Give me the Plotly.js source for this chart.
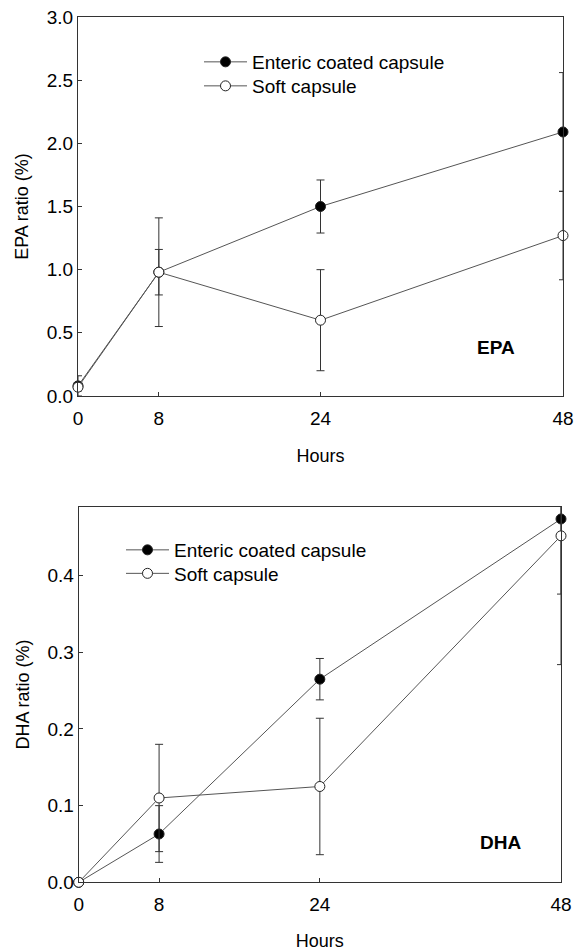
<!DOCTYPE html>
<html><head><meta charset="utf-8">
<script src="https://cdn.plot.ly/plotly-3.0.1.min.js"></script>
<style>html,body{margin:0;padding:0;background:#fff}</style>
</head><body><div id="chart" style="width:575px;height:951px"></div>
<script>
// Hours after intake
const hours = [0, 8, 24, 48];
const seriesNames = ['Enteric coated capsule', 'Soft capsule'];

// EPA ratio (%)
const epaEnteric    = [0.08, 0.98, 1.50, 2.09];
const epaEntericErr = [0.08, 0.18, 0.21, 0.47];
const epaSoft       = [0.07, 0.98, 0.60, 1.27];
const epaSoftErr    = [0.03, 0.43, 0.40, 0.35];

// DHA ratio (%)
const dhaEnteric    = [0.0, 0.063, 0.265, 0.474];
const dhaEntericErr = [0.0, 0.037, 0.027, 0.098];
const dhaSoft       = [0.0, 0.110, 0.125, 0.452];
const dhaSoftErr    = [0.0, 0.070, 0.089, 0.168];

const epaTicks = [0, 0.5, 1.0, 1.5, 2.0, 2.5, 3.0];
const dhaTicks = [0, 0.1, 0.2, 0.3, 0.4];

const FONT = 'Liberation Sans, Arial, sans-serif';
const INK = '#333';
const TXT = '#000';

function tr(x, y, err, filled, xa, ya, legend, name) {
  return {
    type: 'scatter', mode: 'lines+markers', x: x, y: y, name: name,
    xaxis: xa, yaxis: ya, legend: legend, showlegend: true,
    cliponaxis: false,
    line: {color: '#555', width: 1},
    marker: {symbol: 'circle', size: 10, color: filled ? '#000' : '#fff',
             line: {color: '#222', width: 1}},
    error_y: {type: 'data', array: err, visible: true, color: INK, thickness: 1, width: 4}
  };
}

const data = [
  tr(hours, epaEnteric, epaEntericErr, true,  'x',  'y',  'legend',  seriesNames[0]),
  tr(hours, epaSoft,    epaSoftErr,    false, 'x',  'y',  'legend2', seriesNames[1]),
  tr(hours, dhaEnteric, dhaEntericErr, true,  'x2', 'y2', 'legend3', seriesNames[0]),
  tr(hours, dhaSoft,    dhaSoftErr,    false, 'x2', 'y2', 'legend4', seriesNames[1])
];

function xax(domain, anchor) {
  return {
    domain: domain, anchor: anchor, range: [0, 48], tickvals: hours,
    ticks: 'inside', ticklen: 4, tickcolor: INK, showline: true, linecolor: INK, linewidth: 1,
    mirror: true, showgrid: false, zeroline: false,
    tickfont: {family: FONT, size: 19, color: TXT},
    ticklabelstandoff: 5,
    title: {text: 'Hours', font: {family: FONT, size: 18, color: TXT}, standoff: 21}
  };
}
function yax(domain, anchor, range, ticks, title) {
  return {
    domain: domain, anchor: anchor, range: range, tickvals: ticks, tickformat: '.1f',
    ticks: 'inside', ticklen: 4, tickcolor: INK, showline: true, linecolor: INK, linewidth: 1,
    mirror: true, showgrid: false, zeroline: false,
    tickfont: {family: FONT, size: 19, color: TXT},
    title: {text: title, font: {family: FONT, size: 18, color: TXT}, standoff: 13}
  };
}
function leg(xpx, ypx) {
  return {x: xpx/575, y: 1 - ypx/951, xanchor: 'left', yanchor: 'middle', bgcolor: 'rgba(0,0,0,0)',
          font: {family: FONT, size: 19, color: TXT}, itemwidth: 43, borderwidth: 0};
}

const layout = {
  width: 575, height: 951,
  margin: {l: 0, r: 0, t: 0, b: 0},
  paper_bgcolor: '#fff', plot_bgcolor: '#fff',
  font: {family: FONT, size: 18, color: TXT},
  xaxis:  xax([78/575, 563/575], 'y'),
  yaxis:  yax([1 - 396/951, 1 - 17/951], 'x', [0, 3], epaTicks, 'EPA ratio (%)'),
  xaxis2: xax([78.7/575, 561/575], 'y2'),
  yaxis2: yax([1 - 882.3/951, 1 - 506.7/951], 'x2', [0, 0.49], dhaTicks, 'DHA ratio (%)'),
  legend:  leg(199, 62),
  legend2: leg(199, 86),
  legend3: leg(121, 550),
  legend4: leg(121, 573.5),
  annotations: [
    {text: '<b>EPA</b>', xref: 'paper', yref: 'paper', x: 496/575, y: 1 - 348/951,
     xanchor: 'center', yanchor: 'middle',
     showarrow: false, font: {family: FONT, size: 19, color: TXT}},
    {text: '<b>DHA</b>', xref: 'paper', yref: 'paper', x: 500/575, y: 1 - 842/951,
     xanchor: 'center', yanchor: 'middle',
     showarrow: false, font: {family: FONT, size: 19, color: TXT}}
  ]
};

Plotly.newPlot('chart', data, layout, {displayModeBar: false, staticPlot: true});
</script>
</body></html>
